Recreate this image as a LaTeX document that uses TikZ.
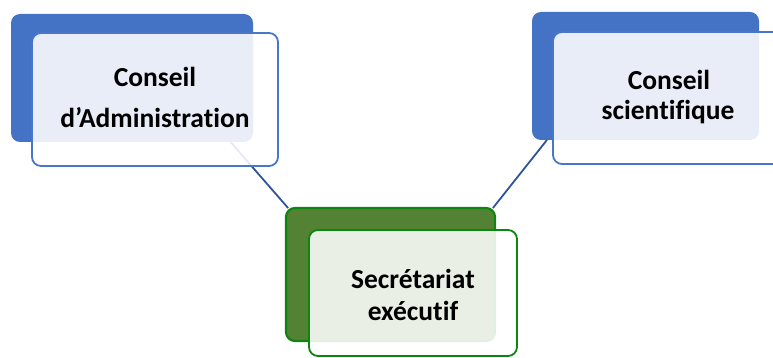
\documentclass[tikz,border=0pt]{standalone}
\usepackage{fontspec}
\setmainfont[Ligatures={NoCommon}]{Carlito}
\definecolor{backblue}{RGB}{68,114,196}
\definecolor{edgeblue}{RGB}{72,118,200}
\definecolor{linkblue}{RGB}{47,85,151}
\definecolor{backgreen}{RGB}{84,130,53}
\definecolor{edgegreen}{RGB}{16,132,16}
\begin{document}
\begin{tikzpicture}[x=1pt,y=-1pt,
  backbox/.style={rectangle, rounded corners=9pt, inner sep=0pt, outer sep=0pt},
  bluebox/.style={backbox, fill=backblue},
  greenbox/.style={backbox, fill=backgreen, draw=edgegreen, line width=2.2pt},
  frontbox/.style={rectangle, rounded corners=9pt, inner sep=0pt, outer sep=0pt,
    fill=white, fill opacity=0.88, line width=1.8pt},
  link/.style={draw=linkblue, line width=1.8pt},
  label/.style={anchor=base, inner sep=0pt, font=\fontsize{27.5}{32}\selectfont\bfseries}]
\useasboundingbox (0,0) rectangle (773,358);
\clip (0,0) rectangle (773,358);

% back panels
\node[bluebox, minimum width=242pt, minimum height=128pt] (lb) at (132,78) {};
\node[bluebox, minimum width=227pt, minimum height=128pt] (rb) at (645.5,76) {};
\node[greenbox, minimum width=209pt, minimum height=133pt] (gb) at (390.5,274.5) {};

% links between the back panels
\draw[link] (lb.-33) -- (gb.147);
\draw[link] (rb.-147) -- (gb.33);

% front panels
\node[frontbox, draw=edgeblue, minimum width=246pt, minimum height=133pt] (lf) at (155,99.5) {};
\node[frontbox, draw=edgeblue, minimum width=240pt, minimum height=132pt] (rf) at (673,98) {};
\node[frontbox, draw=edgegreen, minimum width=208pt, minimum height=126pt] (gf) at (413,293) {};

% captions
\node[label] (t1) at (155,87) {Conseil};
\node[label] (t2) at (155,128) {d’Administration};
\node[label] (t3) at (669,90) {Conseil};
\node[label] (t4) at (668,120) {scientifique};
\node[label] (t5) at (413,288) {Secrétariat};
\node[label] (t6) at (413,320) {exécutif};
\end{tikzpicture}
\end{document}
